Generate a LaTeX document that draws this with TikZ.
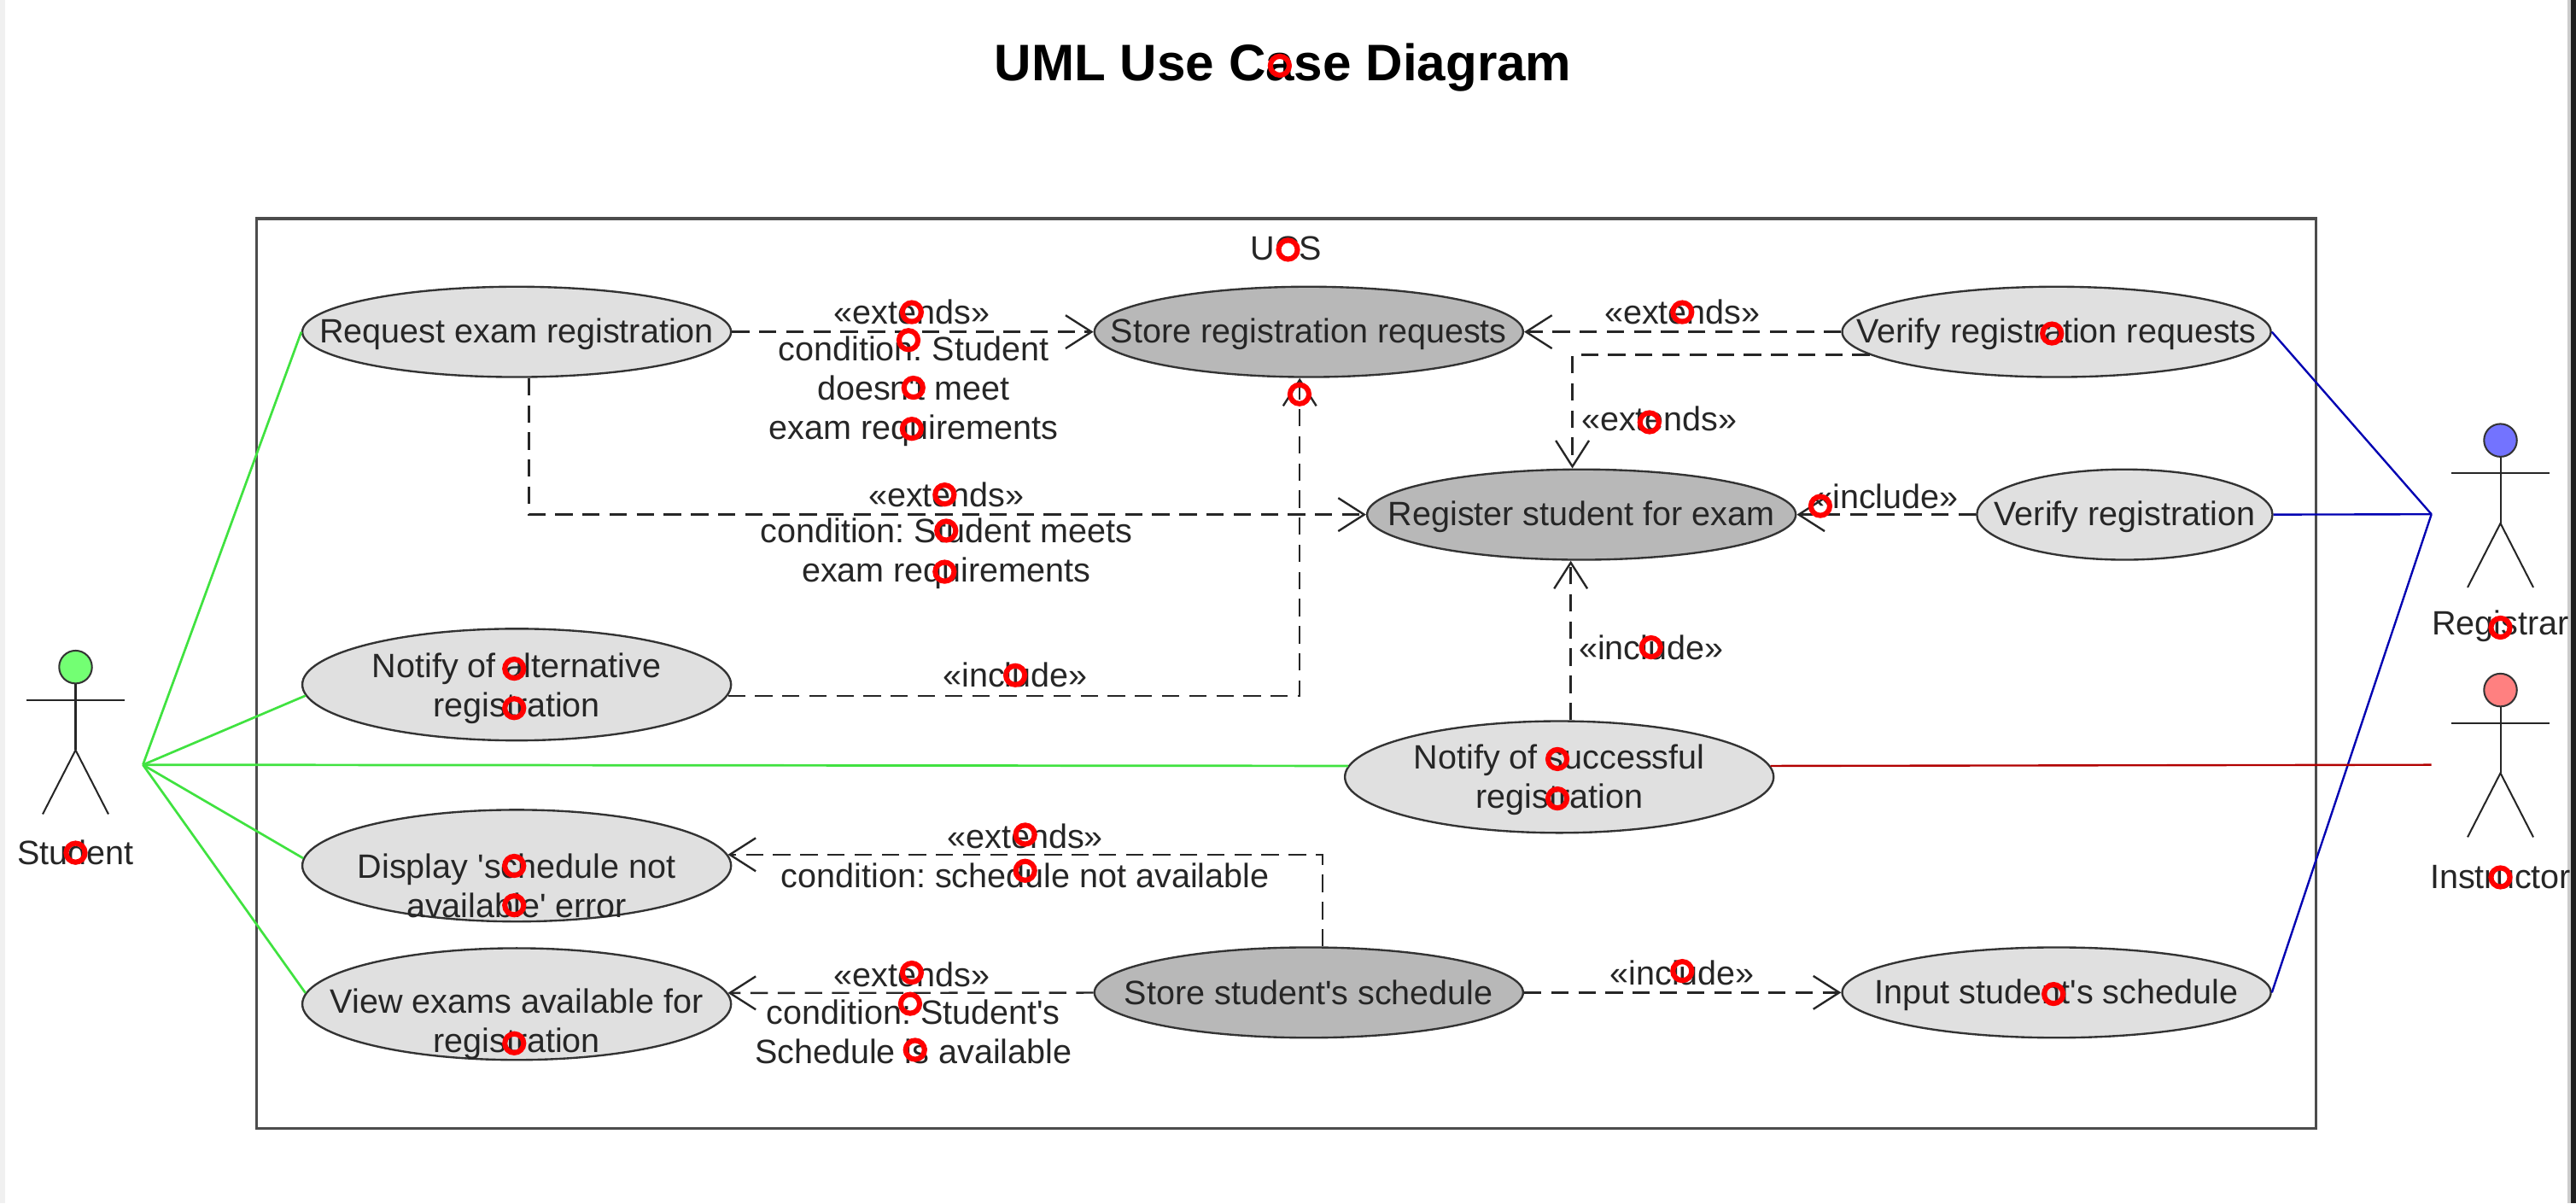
\documentclass[tikz,border=0pt]{standalone}
\usepackage{fontspec}
\usetikzlibrary{positioning, arrows.meta, shapes.geometric, calc}
\newfontfamily\umlfont{Liberation Sans}
\frenchspacing
\begin{document}
\begin{tikzpicture}[
        x=0.02cm, y=-0.02cm,
        every node/.style={font=\umlfont\fontsize{11.7}{13.6}\selectfont, text=black!85},
        usecase/.style={draw=black!80, ellipse, fill=black!12, line width=0.7pt, inner sep=0pt, minimum width=5.22cm, minimum height=1.1cm},
        tallcase/.style={usecase, minimum height=1.36cm},
        storecase/.style={usecase, fill=black!28},
        casetext/.style={align=center, yshift=-0.03cm},
        note/.style={align=center, inner sep=0pt},
        dep/.style={draw=black!85, dashed, dash pattern=on 6pt off 3.4pt, line width=0.7pt, -{Straight Barb[length=9pt, width=11.5pt]}},
        assocS/.style={draw=green!85!black!75, line width=0.8pt},
        assocR/.style={draw=blue!70!black, line width=0.7pt},
        assocI/.style={draw=red!70!black, line width=0.7pt},
        limb/.style={draw=black!85, line width=0.6pt},
        redring/.style={draw=red, circle, line width=1.8pt, minimum size=0.23cm, inner sep=0pt}
    ]
    \useasboundingbox (0,0) rectangle (1568,732.3);

    \fill[black!6] (0,0) rectangle (3,732.3);
    \fill[black!20] (1563,0) rectangle (1565,732.3);
    \fill[black!88] (1565,0) rectangle (1568,732.3);

    \node[font=\umlfont\bfseries\fontsize{17.8}{20}\selectfont, text=black] (Title) at (781,41) {UML Use Case Diagram};
    \node[draw=black!70, line width=0.9pt, minimum width=25.08cm, minimum height=11.08cm, inner sep=0pt] (System) at (783,410) {};
    \node[note] (SystemName) at (783,151) {UCS};

    % use cases
    \node[usecase, label={[casetext]center:Request exam registration}] (Request) at (314.5,202) {};
    \node[storecase, right=4.4cm of Request, label={[casetext]center:Store registration requests}] (Store) {};
    \node[usecase, right=3.86cm of Store, label={[casetext]center:Verify registration requests}] (VerifyReq) {};
    \node[storecase, below=1.1cm of Store, xshift=3.32cm, label={[casetext]center:Register student for exam}] (Register) {};
    \node[usecase, right=2.18cm of Register, minimum width=3.6cm, label={[casetext]center:Verify registration}] (VerifyReg) {};
    \node[tallcase, below=3.04cm of Request, label={[casetext, yshift=-0.02cm]center:Notify of alternative\\registration}] (NotifyAlt) {};
    \node[tallcase, below=1.94cm of Register, xshift=-0.27cm, label={[casetext]center:Notify of successful\\registration}] (NotifyOk) {};
    \node[tallcase, below=0.82cm of NotifyAlt, label={[casetext, yshift=-0.21cm]center:Display 'schedule not\\available' error}] (Display) {};
    \node[tallcase, below=0.3cm of Display, label={[casetext, yshift=-0.21cm]center:View exams available for\\registration}] (View) {};
    \node[storecase, right=4.4cm of View, yshift=0.14cm, label={[casetext, yshift=0.03cm]center:Store student's schedule}] (StoreSched) {};
    \node[usecase, right=3.86cm of StoreSched, label={[casetext]center:Input student's schedule}] (InputSched) {};

    % actors
    \foreach \who/\px/\py/\tint/\lab/\laby in {Student/46/406/green!55/Student/519, Registrar/1522/268/blue!55/Registrar/381, Instructor/1522/420/red!50/Instructor/534} {
        \node[draw=black!80, fill=\tint, circle, minimum size=0.4cm, inner sep=0pt, line width=0.6pt] (\who Head) at (\px,\py) {};
        \coordinate (\who Neck) at ($(\who Head.south)+(0,9.5)$);
        \coordinate (\who Hip) at ($(\who Head.south)+(0,40)$);
        \draw[limb] (\who Head.south) -- (\who Hip);
        \draw[limb] ($(\who Neck)+(-30,0)$) -- ($(\who Neck)+(30,0)$);
        \draw[limb] ($(\who Hip)+(-20,39)$) -- (\who Hip) -- ($(\who Hip)+(20,39)$);
        \node[note] (\who Name) at (\px,\laby) {\lab};
    }

    \coordinate (StudentEnd) at (87,465.5);
    \coordinate (RegistrarEnd) at (1480,313);
    \coordinate (InstructorEnd) at (1480,465.5);

    \draw[assocS] (StudentEnd) -- (Request.west);
    \draw[assocS] (StudentEnd) -- (NotifyAlt.183);
    \draw[assocS] (StudentEnd) -- (NotifyOk.177);
    \draw[assocS] (StudentEnd) -- (Display.178);
    \draw[assocS] (StudentEnd) -- (View.177);
    \draw[assocR] (RegistrarEnd) -- (VerifyReq.east);
    \draw[assocR] (RegistrarEnd) -- (VerifyReg.east);
    \draw[assocR] (RegistrarEnd) -- (InputSched.east);
    \draw[assocI] (InstructorEnd) -- (NotifyOk.3.3);

    % dependencies
    \draw[dep] (Request) -- (Store);
    \draw[dep] ([xshift=0.15cm]Request.south) |- (Register.west);
    \draw[dep] (VerifyReq) -- (Store);
    \draw[dep] (VerifyReq.187) -| ([xshift=-0.11cm]Register.north);
    \draw[dep] (VerifyReg) -- (Register);
    \draw[dep] ([xshift=0.14cm]NotifyOk.north) -- ([xshift=-0.13cm]Register.south);
    \draw[dep] (NotifyAlt.-3) -| ([xshift=-0.11cm]Store.south);
    \draw[dep] ([xshift=0.17cm]StoreSched.north) |- (Display.3);
    \draw[dep] (StoreSched) -- (View.3);
    \draw[dep] (StoreSched) -- (InputSched);

    % labels
    \node[note] (L1) at (555,190) {«extends»};
    \node[note] (L2) at (556,238) {condition: Student\\doesn't meet\\exam requirements};
    \node[note] (L3) at (576,301) {«extends»};
    \node[note] (L4) at (576,337) {condition: Student meets\\exam requirements};
    \node[note] (L5) at (1024,190) {«extends»};
    \node[note] (L6) at (1010,255) {«extends»};
    \node[note] (L7) at (1148,302) {«include»};
    \node[note] (L8) at (1005,394) {«include»};
    \node[note] (L9) at (618,411) {«include»};
    \node[note] (L10) at (624,509) {«extends»};
    \node[note] (L11) at (624,533) {condition: schedule not available};
    \node[note] (L12) at (555,593) {«extends»};
    \node[note] (L13) at (556,628) {condition: Student's\\Schedule is available};
    \node[note] (L14) at (1024,592) {«include»};

    \foreach \px/\py [count=\i] in {779/40, 784/152, 555/190, 553/207, 556/236, 555/261, 575/301, 576/323, 575/348, 791/240, 1024/190, 1249/203, 1004/257, 1108/308, 1522/382, 1522/534, 1005/394, 948/462, 948/486, 313/407, 313/431, 618/411, 624/508, 624/530, 313/527, 313/551, 555/592, 554/611, 557/639, 313/635, 1024/591, 1250/605, 46/519} {
        \node[redring] (ring\i) at (\px,\py) {};
    }
\end{tikzpicture}
\end{document}
